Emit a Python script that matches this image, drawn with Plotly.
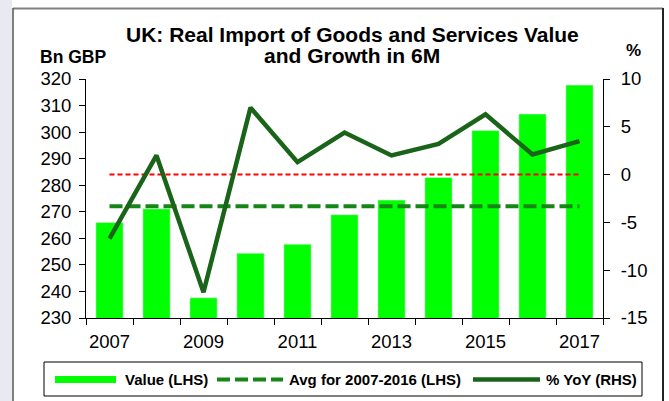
import plotly.graph_objects as go

years = [2007, 2008, 2009, 2010, 2011, 2012, 2013, 2014, 2015, 2016, 2017]
value_bn = [266.0, 271.1, 237.6, 254.4, 257.8, 268.9, 274.4, 282.9, 300.6, 306.8, 317.7]
yoy_pct = [-6.7, 2.0, -12.3, 7.0, 1.3, 4.4, 2.0, 3.2, 6.3, 2.1, 3.5]
avg_2007_2016 = [272.1, 272.1]
avg_x = [2007, 2017]
zero_line = [0, 0]
x_tick_vals = [2007, 2009, 2011, 2013, 2015, 2017]
x_tick_text = ["2007", "2009", "2011", "2013", "2015", "2017"]
rhs_tick_vals = [-15, -10, -5, 0, 5, 10]
rhs_tick_text = ["-15", "-10", "-5", "0", "5", "10"]
legend_labels = ["Value (LHS)", "Avg for 2007-2016 (LHS)", "% YoY (RHS)"]

FONT = "Liberation Sans, Arial, sans-serif"
BAR_C = "#00ff00"
AVG_C = "#168616"
YOY_C = "#1a641a"

fig = go.Figure()
fig.add_trace(go.Bar(x=years, y=value_bn, name=legend_labels[0], marker_color=BAR_C,
                     width=0.58, yaxis="y", showlegend=False))
fig.add_trace(go.Scatter(x=avg_x, y=avg_2007_2016, mode="lines", name=legend_labels[1],
                         line=dict(color=AVG_C, width=4, dash="13px,5px"), yaxis="y",
                         showlegend=False))
fig.add_trace(go.Scatter(x=avg_x, y=zero_line, mode="lines", showlegend=False,
                         line=dict(color="#ff0000", width=2, dash="5px,3px"), yaxis="y2"))
fig.add_trace(go.Scatter(x=years, y=yoy_pct, mode="lines", name=legend_labels[2],
                         line=dict(color=YOY_C, width=4.5), yaxis="y2", showlegend=False))

W, H = 669, 401
L, R, T, B = 86, 66, 79, 83
pw = W - L - R
ph = H - T - B


def px(xp):
    return (xp - L) / pw


def py(yp):
    return (H - B - yp) / ph


fig.update_layout(
    width=W, height=H,
    margin=dict(l=L, r=R, t=T, b=B, autoexpand=False),
    paper_bgcolor="white", plot_bgcolor="white",
    font=dict(family=FONT, size=18, color="black"),
    showlegend=False,
    xaxis=dict(range=[2006.5, 2017.5], tickvals=x_tick_vals, ticktext=x_tick_text,
               ticks="", showline=True, linecolor="black", linewidth=1, showgrid=False,
               zeroline=False, tickfont=dict(size=18.5), ticklabelstandoff=7,
               minor=dict(ticks="outside", tick0=2006.5, dtick=1, ticklen=6,
                          tickcolor="black", showgrid=False)),
    yaxis=dict(range=[230, 320], dtick=10, ticks="outside", ticklen=6, tickcolor="black",
               showline=True, linecolor="black", linewidth=1, showgrid=False, zeroline=False,
               tickfont=dict(size=18.5), ticklabelstandoff=4),
    yaxis2=dict(range=[-15, 10], tickvals=rhs_tick_vals, ticktext=rhs_tick_text,
                ticks="outside", ticklen=6, tickcolor="black",
                showline=True, linecolor="black", linewidth=1, showgrid=False, zeroline=False,
                overlaying="y", side="right", tickfont=dict(size=18.5), ticklabelstandoff=7),
)

# background strip and frame
fig.add_shape(type="rect", xref="paper", yref="paper", x0=px(0), x1=px(12), y0=py(401), y1=py(0),
              fillcolor="#e9e9f2", line=dict(width=0), layer="below")
fig.add_shape(type="line", xref="paper", yref="paper", x0=px(13), x1=px(663), y0=py(8.5), y1=py(8.5),
              line=dict(color="#808080", width=2))
fig.add_shape(type="line", xref="paper", yref="paper", x0=px(13), x1=px(13), y0=py(8), y1=py(401),
              line=dict(color="#555555", width=1.5))
fig.add_shape(type="line", xref="paper", yref="paper", x0=px(663), x1=px(663), y0=py(8), y1=py(401),
              line=dict(color="#222222", width=2))

# titles
fig.add_annotation(text="<b>UK: Real Import of Goods and Services Value</b>",
                   xref="paper", yref="paper", x=px(352), y=py(34), xanchor="center", yanchor="middle",
                   showarrow=False, font=dict(family=FONT, size=21, color="black"))
fig.add_annotation(text="<b>and Growth in 6M</b>",
                   xref="paper", yref="paper", x=px(352), y=py(56), xanchor="center", yanchor="middle",
                   showarrow=False, font=dict(family=FONT, size=21, color="black"))
fig.add_annotation(text="<b>Bn GBP</b>", xref="paper", yref="paper", x=px(73), y=py(57),
                   xanchor="center", yanchor="middle", showarrow=False,
                   font=dict(family=FONT, size=17.5, color="black"))
fig.add_annotation(text="<b>%</b>", xref="paper", yref="paper", x=px(633), y=py(51),
                   xanchor="center", yanchor="middle", showarrow=False,
                   font=dict(family=FONT, size=17, color="black"))

# manual legend
LY = 379.5
fig.add_shape(type="rect", xref="paper", yref="paper", x0=px(44), x1=px(642), y0=py(396), y1=py(362),
              line=dict(color="black", width=1), fillcolor="white")
fig.add_shape(type="rect", xref="paper", yref="paper", x0=px(55), x1=px(116), y0=py(383), y1=py(376),
              line=dict(width=0), fillcolor=BAR_C)
fig.add_shape(type="line", xref="paper", yref="paper", x0=px(217), x1=px(283), y0=py(LY), y1=py(LY),
              line=dict(color=AVG_C, width=4, dash="13px,5px"))
fig.add_shape(type="line", xref="paper", yref="paper", x0=px(473), x1=px(540), y0=py(LY), y1=py(LY),
              line=dict(color=YOY_C, width=4.5))
for xl, lab in zip([123, 287, 544], legend_labels):
    fig.add_annotation(text="<b>" + lab + "</b>", xref="paper", yref="paper", x=px(xl), y=py(LY),
                       xanchor="left", yanchor="middle", showarrow=False,
                       font=dict(family=FONT, size=15, color="black"))

fig.write_html("out.html", config={"displayModeBar": False},
               post_script="document.body.style.margin='0';document.body.style.overflow='hidden';")
